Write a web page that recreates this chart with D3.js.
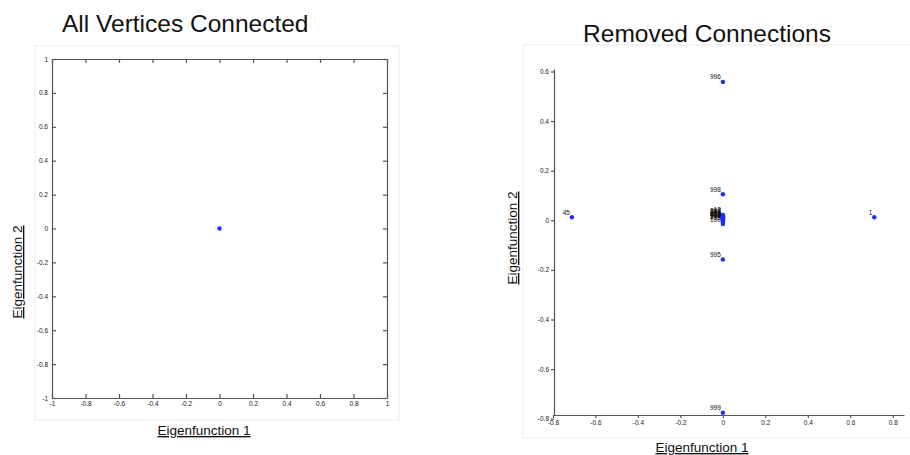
<!DOCTYPE html>
<html>
<head>
<meta charset="utf-8">
<script src="https://cdn.jsdelivr.net/npm/d3@7"></script>
<style>
  body { margin: 0; background: #fff; }
  svg text { font-family: "Liberation Sans", Arial, sans-serif; }
  .tick text { font-size: 6.5px; fill: #222; }
  .axis path, .axis line { stroke: #555; stroke-width: 1.2; }
</style>
</head>
<body>
<svg id="chart" width="910" height="455"></svg>
<script>
// left panel: every vertex connected, single embedded point
const leftTicks = [-1, -0.8, -0.6, -0.4, -0.2, 0, 0.2, 0.4, 0.6, 0.8, 1]
const leftPoints = [{ x: 0, y: 0 }]

// right panel: labelled outliers after removing connections
const rightXTicks = [-0.8, -0.6, -0.4, -0.2, 0, 0.2, 0.4, 0.6, 0.8]
const rightYTicks = [-0.8, -0.6, -0.4, -0.2, 0, 0.2, 0.4, 0.6]
const outlierX = [0, 0, 0, 0, -0.711, 0.713]
const outlierY = [0.558, 0.105, -0.158, -0.776, 0.012, 0.012]
const outlierLabels = ['996', '998', '995', '999', '45', '1']

// dense cluster near the origin, labels overlap into a blob
const clusterX = [0, 0, 0.001, 0, 0.001, 0, 0, 0.001, 0, 0, 0.001, 0, 0, 0]
const clusterY = [0.022, 0.019, 0.016, 0.014, 0.011, 0.009, 0.007, 0.005, 0.003, 0.001, -0.002, -0.006, -0.01, -0.015]
const clusterLabels = ['12', '207', '388', '541', '76', '813', '129', '460', '902', '35', '660', '274', '715', '100']

const svg = d3.select('#chart')
const blue = '#1f2dff'

// light frames behind each figure
svg.append('rect').attr('x', 35).attr('y', 46).attr('width', 364).attr('height', 374)
  .attr('fill', 'none').attr('stroke', '#ececec')
svg.append('rect').attr('x', 523).attr('y', 45).attr('width', 400).attr('height', 393)
  .attr('fill', 'none').attr('stroke', '#ececec')

// ---- left panel ----
const lx = d3.scaleLinear().domain([-1, 1]).range([52, 387])
const ly = d3.scaleLinear().domain([-1, 1]).range([398, 59])
const fmt = d => String(d)

const left = svg.append('g')
left.append('g').attr('class', 'axis').attr('transform', 'translate(0,398)')
  .call(d3.axisBottom(lx).tickValues(leftTicks).tickFormat(fmt).tickSizeInner(-4).tickSizeOuter(0).tickPadding(3))
left.append('g').attr('class', 'axis').attr('transform', 'translate(0,59)')
  .call(d3.axisTop(lx).tickValues(leftTicks).tickFormat('').tickSizeInner(-4).tickSizeOuter(0))
left.append('g').attr('class', 'axis').attr('transform', 'translate(52,0)')
  .call(d3.axisLeft(ly).tickValues(leftTicks).tickFormat(fmt).tickSizeInner(-4).tickSizeOuter(0).tickPadding(4))
left.append('g').attr('class', 'axis').attr('transform', 'translate(387,0)')
  .call(d3.axisRight(ly).tickValues(leftTicks).tickFormat('').tickSizeInner(-4).tickSizeOuter(0))

left.selectAll('circle.pt').data(leftPoints).join('circle')
  .attr('class', 'pt')
  .attr('cx', d => lx(d.x)).attr('cy', d => ly(d.y)).attr('r', 2.2).attr('fill', blue)

svg.append('text').attr('x', 62).attr('y', 32).attr('font-size', 24.5).attr('fill', '#111')
  .text('All Vertices Connected')
svg.append('text').attr('x', 204).attr('y', 435).attr('text-anchor', 'middle').attr('font-size', 13.5)
  .style('text-decoration', 'underline').attr('fill', '#111').text('Eigenfunction 1')
svg.append('text').attr('transform', 'translate(22,272) rotate(-90)').attr('text-anchor', 'middle')
  .attr('font-size', 13.5).style('text-decoration', 'underline').attr('fill', '#111').text('Eigenfunction 2')

// ---- right panel ----
const rx = d3.scaleLinear().domain([-0.8, 0.853]).range([553, 904])
const ry = d3.scaleLinear().domain([-0.785, 0.61]).range([415, 69])

const right = svg.append('g')
right.append('g').attr('class', 'axis').attr('transform', 'translate(0,415)')
  .call(d3.axisBottom(rx).tickValues(rightXTicks).tickFormat(fmt).tickSizeInner(3).tickSizeOuter(0).tickPadding(2))
right.append('g').attr('class', 'axis').attr('transform', 'translate(554,0)')
  .call(d3.axisLeft(ry).tickValues(rightYTicks).tickFormat(fmt).tickSizeInner(3).tickSizeOuter(0).tickPadding(2))

const rightPoints = outlierX.map((x, i) => ({ x, y: outlierY[i], label: outlierLabels[i] }))
  .concat(clusterX.map((x, i) => ({ x, y: clusterY[i], label: clusterLabels[i] })))

right.selectAll('text.lbl').data(rightPoints).join('text')
  .attr('class', 'lbl')
  .attr('x', d => rx(d.x) - 2).attr('y', d => ry(d.y) - 2.5)
  .attr('text-anchor', 'end').attr('font-size', 6.5).attr('fill', '#111')
  .text(d => d.label)

right.selectAll('circle.pt').data(rightPoints).join('circle')
  .attr('class', 'pt')
  .attr('cx', d => rx(d.x)).attr('cy', d => ry(d.y)).attr('r', 2.2).attr('fill', blue)

svg.append('text').attr('x', 707).attr('y', 42).attr('text-anchor', 'middle').attr('font-size', 24.5)
  .attr('fill', '#111').text('Removed Connections')
svg.append('text').attr('x', 702).attr('y', 452).attr('text-anchor', 'middle').attr('font-size', 13.5)
  .style('text-decoration', 'underline').attr('fill', '#111').text('Eigenfunction 1')
svg.append('text').attr('transform', 'translate(517,238) rotate(-90)').attr('text-anchor', 'middle')
  .attr('font-size', 13.5).style('text-decoration', 'underline').attr('fill', '#111').text('Eigenfunction 2')
</script>
</body>
</html>
